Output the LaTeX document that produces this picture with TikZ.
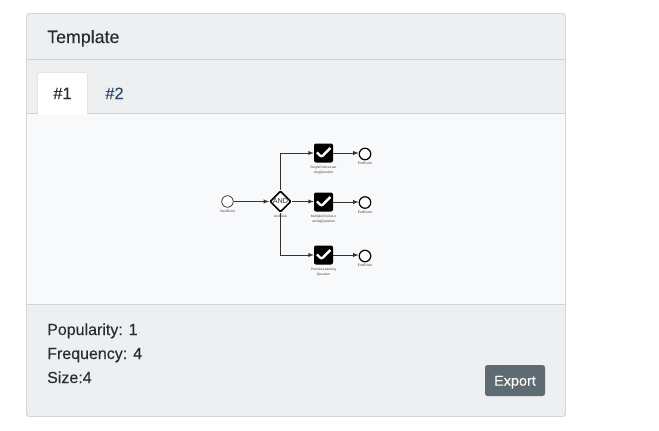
\documentclass[tikz,border=0pt]{standalone}
\usepackage{fontspec}
\setmainfont{Liberation Sans}
\newfontfamily\titlefont[FakeBold=0.35]{Liberation Sans}
\newfontfamily\bodyfont[FakeBold=0.12]{Liberation Sans}
\usetikzlibrary{positioning,shapes.geometric}
\definecolor{cardfill}{HTML}{EEEFF1}
\definecolor{cardline}{HTML}{D2D4D7}
\definecolor{bodyfill}{HTML}{F8F9FB}
\definecolor{tablink}{HTML}{2C4A6B}
\definecolor{textdark}{HTML}{2A2D30}
\definecolor{btnfill}{HTML}{5F6B73}
\tikzset{
	startevent/.style={circle,draw=black!85,fill=white,line width=0.7pt,minimum size=11.5pt,inner sep=0pt},
	endevent/.style={circle,draw=black,fill=white,line width=1.2pt,minimum size=11.5pt,inner sep=0pt},
	andgate/.style={diamond,draw=black,fill=white,line width=1.6pt,rounded corners=1pt,minimum size=21pt,inner sep=0pt,text=black!80,font=\fontsize{7.2}{8}\selectfont},
	tasknode/.style={rectangle,fill=black,rounded corners=2pt,minimum size=19pt,inner sep=0pt,
		path picture={\draw[white,line width=2.4pt] ([xshift=-6.6pt,yshift=0.6pt]path picture bounding box.center) -- ([xshift=-2pt,yshift=-4pt]path picture bounding box.center) -- ([xshift=6.8pt,yshift=5pt]path picture bounding box.center);}},
	tinylabel/.style={font=\fontsize{3.3}{4.2}\selectfont,text=black!75,align=center,inner sep=0pt},
	flow/.style={draw=black!80,line width=0.9pt,-latex},
	cardtext/.style={anchor=base west,inner sep=0pt,text=textdark,font=\bodyfont\fontsize{16}{18}\selectfont},
	tabtext/.style={anchor=base,inner sep=0pt,font=\bodyfont\fontsize{16.4}{18}\selectfont},
}
\begin{document}
\begin{tikzpicture}[x=1pt,y=-1pt]
	\useasboundingbox (0,0) rectangle (659,431);
	% card
	\fill[white] (0,0) rectangle (659,431);
	\draw[cardline,fill=cardfill,line width=0.9pt,rounded corners=3pt] (26.5,13.5) rectangle (565.5,416.5);
	\draw[cardline,line width=0.9pt] (27,59.5) -- (565,59.5);
	\fill[bodyfill] (27,114) rectangle (565,304);
	\draw[cardline,line width=0.9pt] (27,113.5) -- (565,113.5);
	\draw[cardline,line width=0.9pt] (27,304.5) -- (565,304.5);
	% tabs
	\draw[draw=cardline!60,fill=white,line width=0.7pt,rounded corners=2.5pt] (37.5,114.5) -- (37.5,72.5) -- (87.5,72.5) -- (87.5,114.5);
	\fill[white] (38,113) rectangle (87,115);
	\node[tabtext,text=textdark] (tabone) at (62.5,99) {\#1};
	\node[tabtext,text=tablink] (tabtwo) at (114.5,99) {\#2};
	\node[anchor=base west,inner sep=0pt,text=textdark,font=\titlefont\fontsize{17.8}{20}\selectfont] (title) at (47,43) {Template};
	% process
	\node[startevent] (start) at (227.5,201.5) {};
	\node[andgate] (gate) at (280.5,201.5) {AND};
	\node[tasknode] (taska) at (323.5,153) {};
	\node[tasknode] (taskb) at (323.5,202) {};
	\node[tasknode] (taskc) at (323.5,255) {};
	\node[endevent] (enda) at (365,154) {};
	\node[endevent] (endb) at (365,202.5) {};
	\node[endevent] (endc) at (365,256) {};
	\node[tinylabel,below=2.5pt of start] (startlabel) {StartEvent};
	\node[tinylabel,below=2.5pt of gate] (gatelabel) {AndTask};
	\node[tinylabel,below=3.6pt of taska] (labela) {SingleChoiceLear\\ningQuestion};
	\node[tinylabel,below=3.6pt of taskb] (labelb) {MultipleChoiceLe\\arningQuestion};
	\node[tinylabel,below=3.6pt of taskc] (labelc) {PracticeLearning\\Question};
	\node[tinylabel,below=1.8pt of enda] (endlabela) {EndEvent};
	\node[tinylabel,below=1.8pt of endb] (endlabelb) {EndEvent};
	\node[tinylabel,below=1.8pt of endc] (endlabelc) {EndEvent};
	\draw[flow] (start) -- (gate);
	\draw[flow] (gate.north) |- (taska.west);
	\draw[flow] (gate.east) -- (gate.east -| taskb.west);
	\draw[flow] (gate.south) |- (taskc.west);
	\draw[flow] (taska) -- (taska -| enda.west);
	\draw[flow] (taskb) -- (taskb -| endb.west);
	\draw[flow] (taskc) -- (taskc -| endc.west);
	% footer
	\node[cardtext] (popularity) at (47,335) {Popularity: 1};
	\node[cardtext] (frequency) at (47,359) {Frequency: 4};
	\node[cardtext] (size) at (47,383) {Size:4};
	\node[fill=btnfill,rounded corners=2.5pt,minimum width=60pt,minimum height=31pt,inner sep=0pt,text height=10.4pt,text depth=0pt,text=white,font=\bodyfont\fontsize{14.4}{16}\selectfont] (export) at (515,380.5) {Export};
\end{tikzpicture}
\end{document}
